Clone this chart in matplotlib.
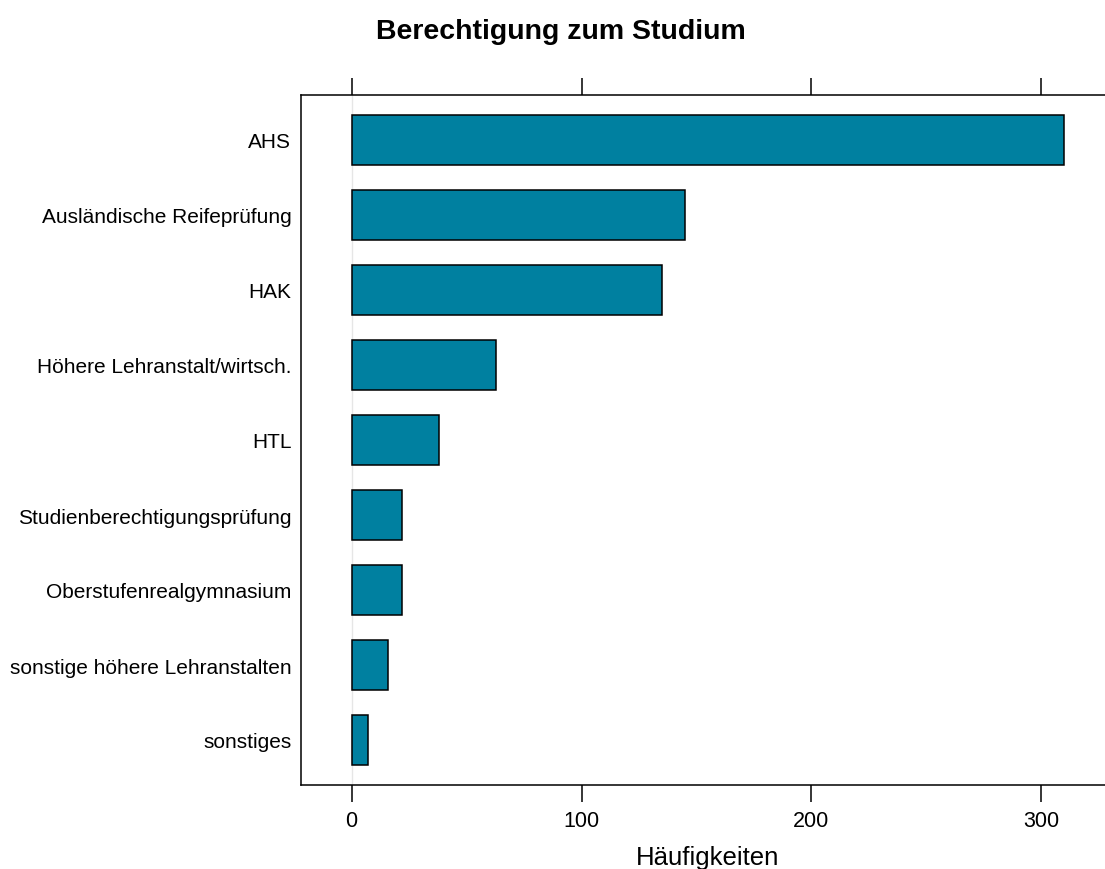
import matplotlib
matplotlib.use("Agg")
import matplotlib.pyplot as plt

# data
categories = ["AHS", "Ausländische Reifeprüfung", "HAK", "Höhere Lehranstalt/wirtsch.",
              "HTL", "Studienberechtigungsprüfung", "Oberstufenrealgymnasium",
              "sonstige höhere Lehranstalten", "sonstiges"]
counts = [310, 145, 135, 63, 38, 22, 22, 16, 7]
xticks = [0, 100, 200, 300]

plt.rcParams['font.family'] = ['Liberation Sans', 'DejaVu Sans']

W, H = 1105, 870
fig = plt.figure(figsize=(W / 100, H / 100), dpi=100)
# panel: left 301px, top 96px, bottom 786px, right edge falls outside the picture
ax = fig.add_axes([301 / W, 1 - 786 / H, (1115 - 301) / W, (786 - 96) / H])

n = len(categories)
ypos = list(range(n, 0, -1))
ax.axvline(0, color='#e6e6e6', lw=1, zorder=0)
ax.barh(ypos, counts, height=2 / 3, color='#0080a0', edgecolor='black', linewidth=1.1, zorder=2)

ax.set_xlim(-22, 332)
ax.set_ylim(0.4, n + 0.6)
ax.set_yticks(ypos)
ax.set_yticklabels(categories, fontsize=15)
ax.set_xticks(xticks)
ax.set_xticklabels([str(v) for v in xticks], fontsize=15.5)
ax.tick_params(axis='y', length=0, pad=7)
ax.tick_params(axis='x', direction='out', length=12, width=1.1, top=True, labeltop=False, pad=6)
for s in ax.spines.values():
    s.set_linewidth(1.1)

ax.set_xlabel("Häufigkeiten", fontsize=18.5, labelpad=10)
fig.text(561 / W, 1 - 32 / H, "Berechtigung zum Studium", fontsize=20.5, fontweight='bold',
         ha='center', va='center')

fig.savefig("out.png", dpi=100)
